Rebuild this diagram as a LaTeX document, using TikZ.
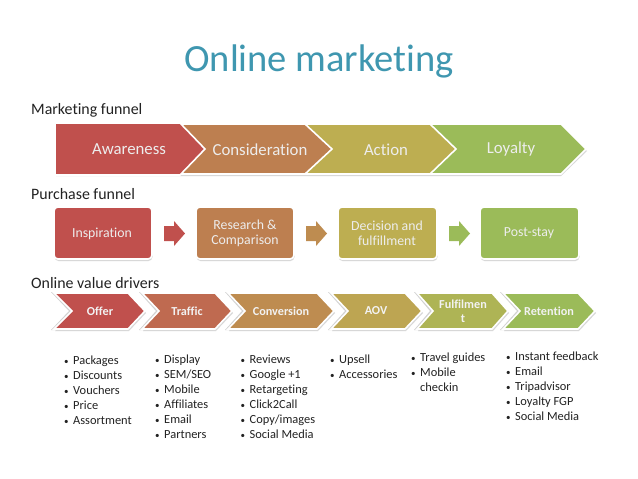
\documentclass[tikz,border=0pt]{standalone}
\usepackage{fontspec}
\setmainfont{Carlito}[Ligatures=NoCommon]
\definecolor{cRed}{HTML}{C0504D}
\definecolor{cOrange}{HTML}{BD7F50}
\definecolor{cOlive}{HTML}{BDAE51}
\definecolor{cGreen}{HTML}{9BBB59}
\definecolor{cB}{HTML}{BF6A50}
\definecolor{cC}{HTML}{BE8C50}
\definecolor{cD}{HTML}{BDA552}
\definecolor{cE}{HTML}{AEB455}
\definecolor{cTitle}{HTML}{3F97B0}
\definecolor{cText}{HTML}{222222}
\newcommand{\bl}[1]{\makebox[9pt][l]{\fontsize{9}{15}\selectfont•}#1\\}
\tikzset{
  x=1pt,y=-1pt,
  shape edge/.style={draw=white,line width=1.6pt,line join=miter},
  shade edge/.style={fill=black!28,draw=none,opacity=.55,shift={(1,2)}},
  bigchev/.style={font=\fontsize{16.8}{19}\selectfont,text=white!93!black,inner sep=0pt,align=center},
  boxtext/.style={font=\fontsize{13.8}{15}\selectfont,text=white!93!black,inner sep=0pt,align=center},
  smallchev/.style={font=\bfseries\fontsize{12.2}{14}\selectfont,text=white!95!black,inner sep=0pt,align=center},
  heading/.style={font=\fontsize{15.9}{18}\selectfont,text=cText,anchor=west,inner sep=0pt},
  listtext/.style={font=\fontsize{12.4}{15}\selectfont,text=cText,anchor=north west,inner sep=0pt,align=left},
  roundbox/.style={rounded corners=4pt,draw=white,line width=1.6pt},
  boxshade/.style={rounded corners=4pt,fill=black!28,opacity=.55,shift={(0.5,2)}},
}
\newcommand{\lowchev}[5]{% left notch shoulder tip colour
  \fill[shade edge] (#1,293)--(#3,293)--(#4,311)--(#3,329)--(#1,329)--(#2,311)--cycle;
  \fill[black!18] (#1-3,292)--(#3-3,292)--(#4-3,311)--(#3-3,330)--(#1-3,330)--(#2-3,311)--cycle;
  \path[fill=#5,shape edge] (#1,293)--(#3,293)--(#4,311)--(#3,329)--(#1,329)--(#2,311)--cycle;
}
\newcommand{\rbox}[3]{%
  \fill[boxshade] (#1,207) rectangle (#2,259);
  \path[fill=#3,roundbox] (#1,207) rectangle (#2,259);
}
\newcommand{\barrow}[2]{%
  \fill[#2] (#1,226)--(#1+10,226)--(#1+10,221)--(#1+21,233.5)--(#1+10,246)--(#1+10,241)--(#1,241)--cycle;
}
\begin{document}
\begin{tikzpicture}
\useasboundingbox (0,0) rectangle (638,479);
\fill[white] (0,0) rectangle (638,479);
\node[font=\fontsize{38.5}{44}\selectfont,text=cTitle,inner sep=0pt] (title) at (319,61) {Online marketing};
\node[heading] (h1) at (31,110) {Marketing funnel};
\node[heading] (h2) at (31,194) {Purchase funnel};
\node[heading] (h3) at (31,283) {Online value drivers};

% top funnel, last first so each tip overlaps the next
\fill[black!28,opacity=.55] (56,126)--(561,126)--(587,151)--(561,176)--(56,176)--cycle;
\path[fill=cGreen,shape edge] (420,124)--(561,124)--(586,149)--(561,174)--(420,174)--cycle;
\path[fill=cOlive,shape edge] (300,124)--(430,124)--(456,149)--(430,174)--(300,174)--cycle;
\path[fill=cOrange,shape edge] (170,124)--(305,124)--(332,149)--(305,174)--(170,174)--cycle;
\path[fill=cRed,shape edge] (55,123)--(180,123)--(205,149)--(180,175)--(55,175)--cycle;
\node[bigchev] (awareness) at (129,149.5) {Awareness};
\node[bigchev] (consideration) at (260,149.5) {Consideration};
\node[bigchev] (action) at (386,149.5) {Action};
\node[bigchev] (loyalty) at (511,149.5) {Loyalty};

% purchase funnel
\rbox{54}{152}{cRed}
\rbox{196}{294}{cOrange}
\rbox{338}{437}{cOlive}
\rbox{480}{579}{cGreen}
\barrow{164}{cRed}
\barrow{306}{cC}
\barrow{449}{cGreen}
\node[boxtext] (inspiration) at (102,233.5) {Inspiration};
\node[boxtext] (research) at (245,233.5) {Research \&\\Comparison};
\node[boxtext] (decision) at (387,233.5) {Decision and\\fulfillment};
\node[boxtext] (poststay) at (529,233.5) {Post-stay};

% value drivers
\lowchev{54}{72}{128}{145}{cRed}
\lowchev{142}{159}{215}{232}{cB}
\lowchev{228}{245}{317}{334}{cC}
\lowchev{331}{348}{405}{422}{cD}
\lowchev{417}{433}{492}{508}{cE}
\lowchev{503}{520}{578}{595}{cGreen}
\node[smallchev] (offer) at (100,311) {Offer};
\node[smallchev] (traffic) at (187,311) {Traffic};
\node[smallchev] (conversion) at (281,311) {Conversion};
\node[smallchev] (aov) at (376,311) {AOV};
\node[smallchev] (fulfil) at (463,311.5) {Fulfilmen\\t};
\node[smallchev] (retention) at (549,311) {Retention};

% lists
\node[listtext] (l1) at (64,356) {\bl{Packages}\bl{Discounts}\bl{Vouchers}\bl{Price}\bl{Assortment}};
\node[listtext] (l2) at (155,355) {\bl{Display}\bl{SEM/SEO}\bl{Mobile}\bl{Affiliates}\bl{Email}\bl{Partners}};
\node[listtext] (l3) at (240.5,355) {\bl{Reviews}\bl{Google +1}\bl{Retargeting}\bl{Click2Call}\bl{Copy/images}\bl{Social Media}};
\node[listtext] (l4) at (330,355) {\bl{Upsell}\bl{Accessories}};
\node[listtext] (l5) at (411,353) {\bl{Travel guides}\bl{Mobile}\hspace*{9pt}checkin};
\node[listtext] (l6) at (506,352) {\bl{Instant feedback}\bl{Email}\bl{Tripadvisor}\bl{Loyalty FGP}\bl{Social Media}};
\end{tikzpicture}
\end{document}
